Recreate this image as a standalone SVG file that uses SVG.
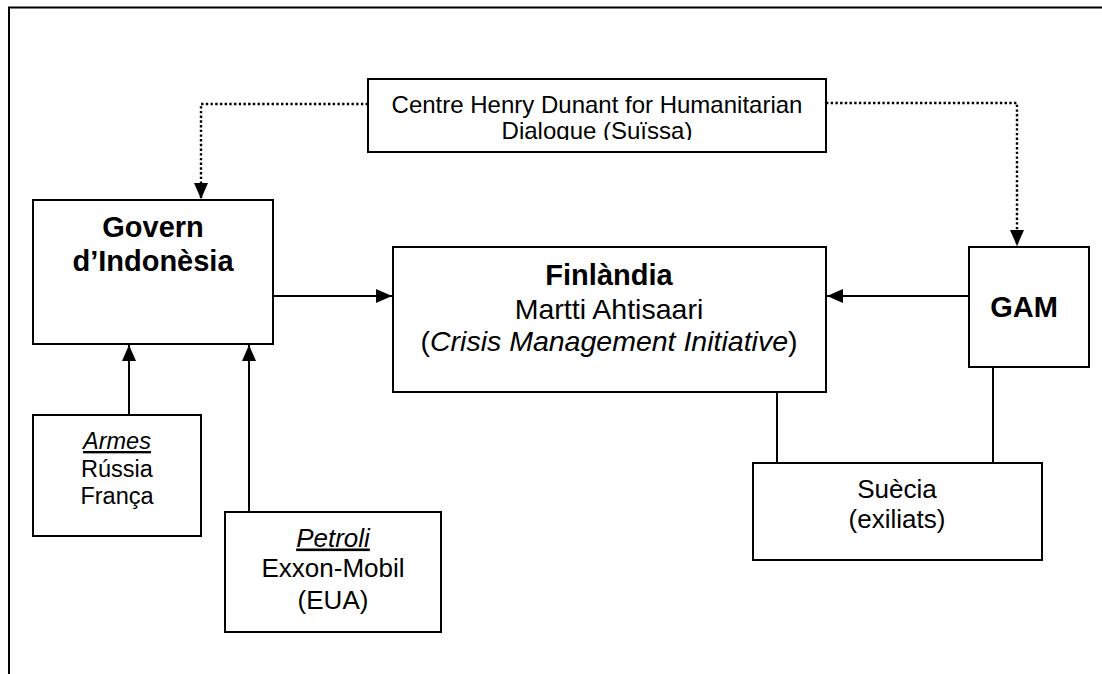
<svg xmlns="http://www.w3.org/2000/svg" width="1102" height="674" viewBox="0 0 1102 674">
  <style>
    .box { fill: #fff; stroke: #000; stroke-width: 2; }
    .frame { fill: none; stroke: #000; stroke-width: 2; }
    .link { fill: none; stroke: #000; stroke-width: 2; }
    .dot { fill: none; stroke: #000; stroke-width: 2.4; stroke-dasharray: 2.4 2.3; }
    text { font-family: "Liberation Sans", Arial, sans-serif; fill: #000; text-anchor: middle; }
    .head { font-weight: bold; font-size: 29px; }
    .fin { font-size: 28.5px; }
    .ctr { font-size: 24px; }
    .sm { font-size: 23.5px; }
    .md { font-size: 26px; }
    .ul { font-style: italic; text-decoration: underline; }
  </style>
  <defs>
    <marker id="arrow" viewBox="0 0 16 14" refX="16" refY="7" markerWidth="16" markerHeight="14" markerUnits="userSpaceOnUse" orient="auto">
      <path d="M0,0 L16,7 L0,14 Z" fill="#000"/>
    </marker>
    <clipPath id="ctrClip">
      <rect x="368" y="79" width="458" height="61"/>
    </clipPath>
  </defs>

  <rect width="1102" height="674" fill="#fff"/>

  <!-- page frame: top and left rules -->
  <path class="frame" d="M9,674 V7.5 H1102"/>

  <g id="connectors">
    <path class="dot" d="M368,104 H201 V199" marker-end="url(#arrow)"/>
    <path class="dot" d="M826,103 H1017 V246" marker-end="url(#arrow)"/>
    <path class="link" d="M273,296 H392" marker-end="url(#arrow)"/>
    <path class="link" d="M969,296 H827" marker-end="url(#arrow)"/>
    <path class="link" d="M129,415 V345" marker-end="url(#arrow)"/>
    <path class="link" d="M249,512 V345" marker-end="url(#arrow)"/>
    <path class="link" d="M777,392 V463"/>
    <path class="link" d="M993,367 V463"/>
  </g>

  <g id="centre-henry-dunant">
    <rect class="box" x="368" y="79" width="458" height="73"/>
    <g clip-path="url(#ctrClip)">
      <text class="ctr" x="597" y="112.5">Centre Henry Dunant for Humanitarian</text>
      <text class="ctr" x="597" y="138.5">Dialogue (Suïssa)</text>
    </g>
  </g>

  <g id="govern-indonesia">
    <rect class="box" x="33" y="200" width="240" height="144"/>
    <text class="head" x="153" y="236.5">Govern</text>
    <text class="head" x="153" y="271">d’Indonèsia</text>
  </g>

  <g id="finlandia">
    <rect class="box" x="393" y="247" width="433" height="145"/>
    <text class="head" x="609" y="285">Finlàndia</text>
    <text class="fin" x="609" y="318.5">Martti Ahtisaari</text>
    <text class="fin" x="609" y="351">(<tspan font-style="italic">Crisis Management Initiative</tspan>)</text>
  </g>

  <g id="gam">
    <rect class="box" x="969" y="247" width="120" height="120"/>
    <text class="head" x="1024" y="316.5">GAM</text>
  </g>

  <g id="armes">
    <rect class="box" x="33" y="415" width="168" height="121"/>
    <text class="sm ul" x="117" y="449">Armes</text>
    <text class="sm" x="117" y="476.5">Rússia</text>
    <text class="sm" x="117" y="504">França</text>
  </g>

  <g id="petroli">
    <rect class="box" x="225" y="512" width="216" height="120"/>
    <text class="md ul" x="333" y="546.5">Petroli</text>
    <text class="md" x="333" y="577">Exxon-Mobil</text>
    <text class="md" x="333" y="609">(EUA)</text>
  </g>

  <g id="suecia">
    <rect class="box" x="753" y="463" width="289" height="97"/>
    <text class="md" x="897" y="498">Suècia</text>
    <text class="md" x="897" y="528">(exiliats)</text>
  </g>
</svg>
